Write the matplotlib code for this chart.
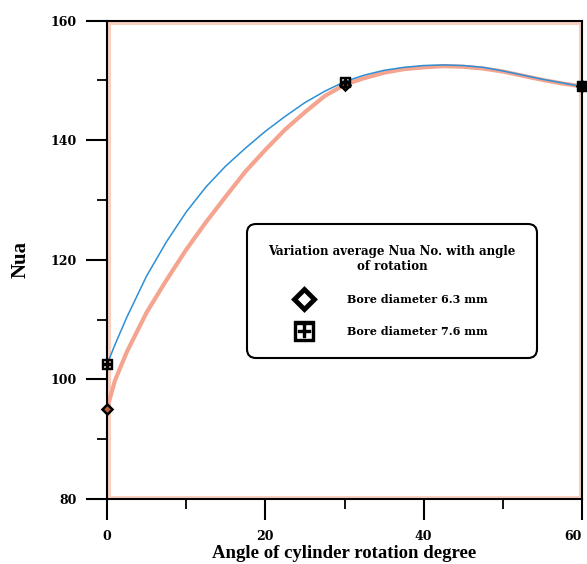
import matplotlib
matplotlib.use("Agg")
import matplotlib.pyplot as plt
from matplotlib.ticker import MultipleLocator
from matplotlib.patches import Rectangle

# measured points (angle in degree, average Nua)
angle = [0, 30, 60]
nua_63 = [95.1, 149.2, 149.0]
nua_76 = [102.5, 149.8, 149.0]

# fitted curves
curve_x = [0, 1, 2.5, 5, 7.5, 10, 12.5, 15, 17.5, 20, 22.5, 25, 27.5, 30,
           32.5, 35, 37.5, 40, 42.5, 45, 47.5, 50, 52.5, 55, 57.5, 60]
curve_63 = [95.1, 99.8, 104.6, 111.2, 116.6, 121.7, 126.3, 130.6, 134.8, 138.4,
            141.8, 144.7, 147.4, 149.3, 150.4, 151.3, 151.9, 152.2, 152.4, 152.3,
            152.0, 151.5, 150.8, 150.1, 149.5, 149.0]
curve_76 = [102.5, 105.8, 110.4, 117.3, 123.0, 128.0, 132.2, 135.7, 138.7, 141.5,
            144.0, 146.3, 148.2, 149.8, 150.9, 151.7, 152.2, 152.5, 152.6, 152.5,
            152.2, 151.6, 150.9, 150.2, 149.6, 149.0]

x_ticks = [0, 20, 40, 60]
y_ticks = [80, 100, 120, 140, 160]

legend_title = "Variation average Nua No. with angle\nof rotation"
labels = ["Bore diameter 6.3 mm", "Bore diameter 7.6 mm"]

serif = "Liberation Serif"
wide = "DejaVu Serif"

fig = plt.figure(figsize=(5.87, 5.64), dpi=100)
ax = fig.add_axes([0.1823, 0.1152, 0.8092, 0.8481])

ax.plot(curve_x, curve_63, color="#f4a48f", lw=3.0, zorder=2, clip_on=False)
ax.plot(curve_x, curve_76, color="#2d8fd5", lw=1.1, zorder=3, clip_on=False)

ax.plot(angle, nua_63, ls="none", marker="D", ms=5.5, mfc="#c0603a", mec="black",
        mew=1.8, zorder=5, clip_on=False)
ax.plot(angle, nua_76, ls="none", marker="$\\boxplus$", ms=7.5, color="black",
        zorder=6, clip_on=False)

# salmon halo hugging the frame
ax.add_patch(Rectangle((0.004, 0.004), 0.992, 0.992, transform=ax.transAxes,
                       fill=False, ec="#f9cfc2", lw=2.2, zorder=1))

ax.set_xlim(0, 60)
ax.set_ylim(80, 160)
ax.set_xticks(x_ticks, [str(v) for v in x_ticks])
ax.set_yticks(y_ticks, [str(v) for v in y_ticks])
ax.xaxis.set_minor_locator(MultipleLocator(10))
ax.yaxis.set_minor_locator(MultipleLocator(10))
ax.tick_params(which="major", direction="out", length=15, width=1.5)
ax.tick_params(which="minor", direction="out", length=7, width=1.3)
ax.tick_params(axis="both", labelsize=9, pad=7)
for lab in ax.get_xticklabels() + ax.get_yticklabels():
    lab.set_fontfamily(wide)
    lab.set_fontweight("bold")
# last x label sits on the figure edge: keep it inside
ax.xaxis.get_major_ticks()[-1].label1.set_horizontalalignment("right")
for s in ax.spines.values():
    s.set_linewidth(1.5)

ax.set_xlabel("Angle of cylinder rotation degree", fontfamily=serif,
              fontweight="bold", fontsize=13.5, labelpad=2)
ax.set_ylabel("Nua", fontfamily=serif, fontweight="bold", fontsize=15, labelpad=14)

# legend handles (markers only)
h1, = ax.plot([], [], ls="none", marker="D", ms=10, mfc="white", mec="black", mew=3.5)
h2, = ax.plot([], [], ls="none", marker="$\\boxplus$", ms=14, color="black")
leg = ax.legend([h1, h2], labels, title=legend_title, loc="center",
                bbox_to_anchor=(0.60, 0.435), frameon=True, fancybox=True,
                prop={"family": wide, "weight": "bold", "size": 8},
                title_fontproperties={"family": wide, "weight": "bold", "size": 8.5},
                borderpad=1.9, handletextpad=3.2, labelspacing=1.9,
                handlelength=1.4, borderaxespad=0)
leg.get_title().set_multialignment("center")
leg.get_frame().set_edgecolor("black")
leg.get_frame().set_linewidth(1.5)
leg.get_frame().set_boxstyle("round,pad=0,rounding_size=0.8")
leg.get_frame().set_alpha(1)

fig.savefig("out.png", dpi=100)
